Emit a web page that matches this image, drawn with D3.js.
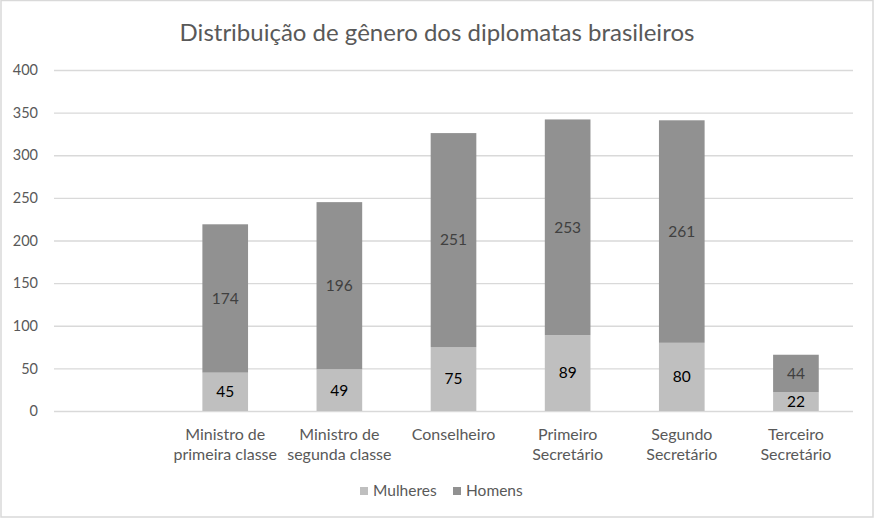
<!DOCTYPE html>
<html>
<head>
<meta charset="utf-8">
<script src="https://cdn.jsdelivr.net/npm/d3@7"></script>
<style>
  html, body { margin: 0; padding: 0; background: #fff; }
  svg { display: block; font-family: Lato, "Open Sans", sans-serif; }
</style>
</head>
<body>
<div id="chart"></div>
<script>
const categories = [
  'Ministro de\nprimeira classe',
  'Ministro de\nsegunda classe',
  'Conselheiro',
  'Primeiro\nSecretário',
  'Segundo\nSecretário',
  'Terceiro\nSecretário'
];
const mulheres = [45, 49, 75, 89, 80, 22];
const homens = [174, 196, 251, 253, 261, 44];
const yTicks = [0, 50, 100, 150, 200, 250, 300, 350, 400];
const seriesNames = ['Mulheres', 'Homens'];
const seriesColors = ['#bfbfbf', '#919191'];

const W = 875, H = 519;
const margin = { top: 70, right: 22, bottom: 108, left: 54 };
const width = W - margin.left - margin.right;
const height = H - margin.top - margin.bottom;

const svg = d3.select('#chart').append('svg')
  .attr('width', W)
  .attr('height', H);

// outer chart border
svg.append('rect')
  .attr('x', 1).attr('y', 0.5)
  .attr('width', W - 3).attr('height', H - 2.5)
  .attr('fill', '#fff')
  .attr('stroke', '#d9d9d9')
  .attr('stroke-width', 1.5);

svg.append('text')
  .attr('x', W / 2 - 0.5)
  .attr('y', 41)
  .attr('text-anchor', 'middle')
  .attr('fill', '#595959')
  .style('font-size', '24px')
  .text('Distribuição de gênero dos diplomatas brasileiros');

const g = svg.append('g').attr('transform', `translate(${margin.left},${margin.top})`);

// first slot is left empty, as in the original sheet
const x = d3.scaleBand()
  .domain(['', ...categories])
  .range([0, width])
  .paddingInner(0.6)
  .paddingOuter(0.3);

const y = d3.scaleLinear().domain([0, 400]).range([height, 0]);

// grid
g.append('g')
  .selectAll('line')
  .data(yTicks)
  .join('line')
  .attr('x1', 0).attr('x2', width)
  .attr('y1', d => y(d) + 0.5).attr('y2', d => y(d) + 0.5)
  .attr('stroke', '#d9d9d9')
  .attr('stroke-width', 1.3);

const yAxis = g.append('g')
  .call(d3.axisLeft(y).tickValues(yTicks).tickSize(0).tickPadding(16));
yAxis.select('.domain').remove();
yAxis.selectAll('text')
  .attr('fill', '#595959')
  .style('font-size', '14.5px')
  .style('font-family', 'Lato, sans-serif');

const stacked = categories.map((c, i) => ({ cat: c, m: mulheres[i], h: homens[i] }));

const bars = g.append('g');
bars.selectAll('rect.m')
  .data(stacked)
  .join('rect')
  .attr('class', 'm')
  .attr('x', d => x(d.cat))
  .attr('width', x.bandwidth())
  .attr('y', d => y(d.m))
  .attr('height', d => y(0) - y(d.m))
  .attr('fill', seriesColors[0]);

bars.selectAll('rect.h')
  .data(stacked)
  .join('rect')
  .attr('class', 'h')
  .attr('x', d => x(d.cat))
  .attr('width', x.bandwidth())
  .attr('y', d => y(d.m + d.h))
  .attr('height', d => y(d.m) - y(d.m + d.h))
  .attr('fill', seriesColors[1]);

// value labels
bars.selectAll('text.m')
  .data(stacked)
  .join('text')
  .attr('class', 'm')
  .attr('x', d => x(d.cat) + x.bandwidth() / 2)
  .attr('y', d => y(d.m / 2))
  .attr('dy', '0.35em')
  .attr('text-anchor', 'middle')
  .attr('fill', '#000')
  .style('font-size', '15.5px')
  .text(d => d.m);

bars.selectAll('text.h')
  .data(stacked)
  .join('text')
  .attr('class', 'h')
  .attr('x', d => x(d.cat) + x.bandwidth() / 2)
  .attr('y', d => y(d.m + d.h / 2))
  .attr('dy', '0.35em')
  .attr('text-anchor', 'middle')
  .attr('fill', '#404040')
  .style('font-size', '15.5px')
  .text(d => d.h);

// category labels
const xl = g.append('g')
  .selectAll('text')
  .data(categories)
  .join('text')
  .attr('x', d => x(d) + x.bandwidth() / 2)
  .attr('y', height + 29)
  .attr('text-anchor', 'middle')
  .attr('fill', '#595959')
  .style('font-size', '16px');
xl.selectAll('tspan')
  .data(d => d.split('\n'))
  .join('tspan')
  .attr('x', function() { return this.parentNode.getAttribute('x'); })
  .attr('dy', (d, i) => i === 0 ? 0 : 20)
  .text(d => d);

// legend
const legend = svg.append('g').attr('transform', 'translate(360,491)');
const items = legend.selectAll('g')
  .data(seriesNames)
  .join('g')
  .attr('transform', (d, i) => `translate(${i * 93},0)`);
items.append('rect')
  .attr('x', 0).attr('y', -4)
  .attr('width', 8).attr('height', 8)
  .attr('fill', (d, i) => seriesColors[i]);
items.append('text')
  .attr('x', 13).attr('y', 0)
  .attr('dy', '0.35em')
  .attr('fill', '#595959')
  .style('font-size', '15.5px')
  .text(d => d);
</script>
</body>
</html>
